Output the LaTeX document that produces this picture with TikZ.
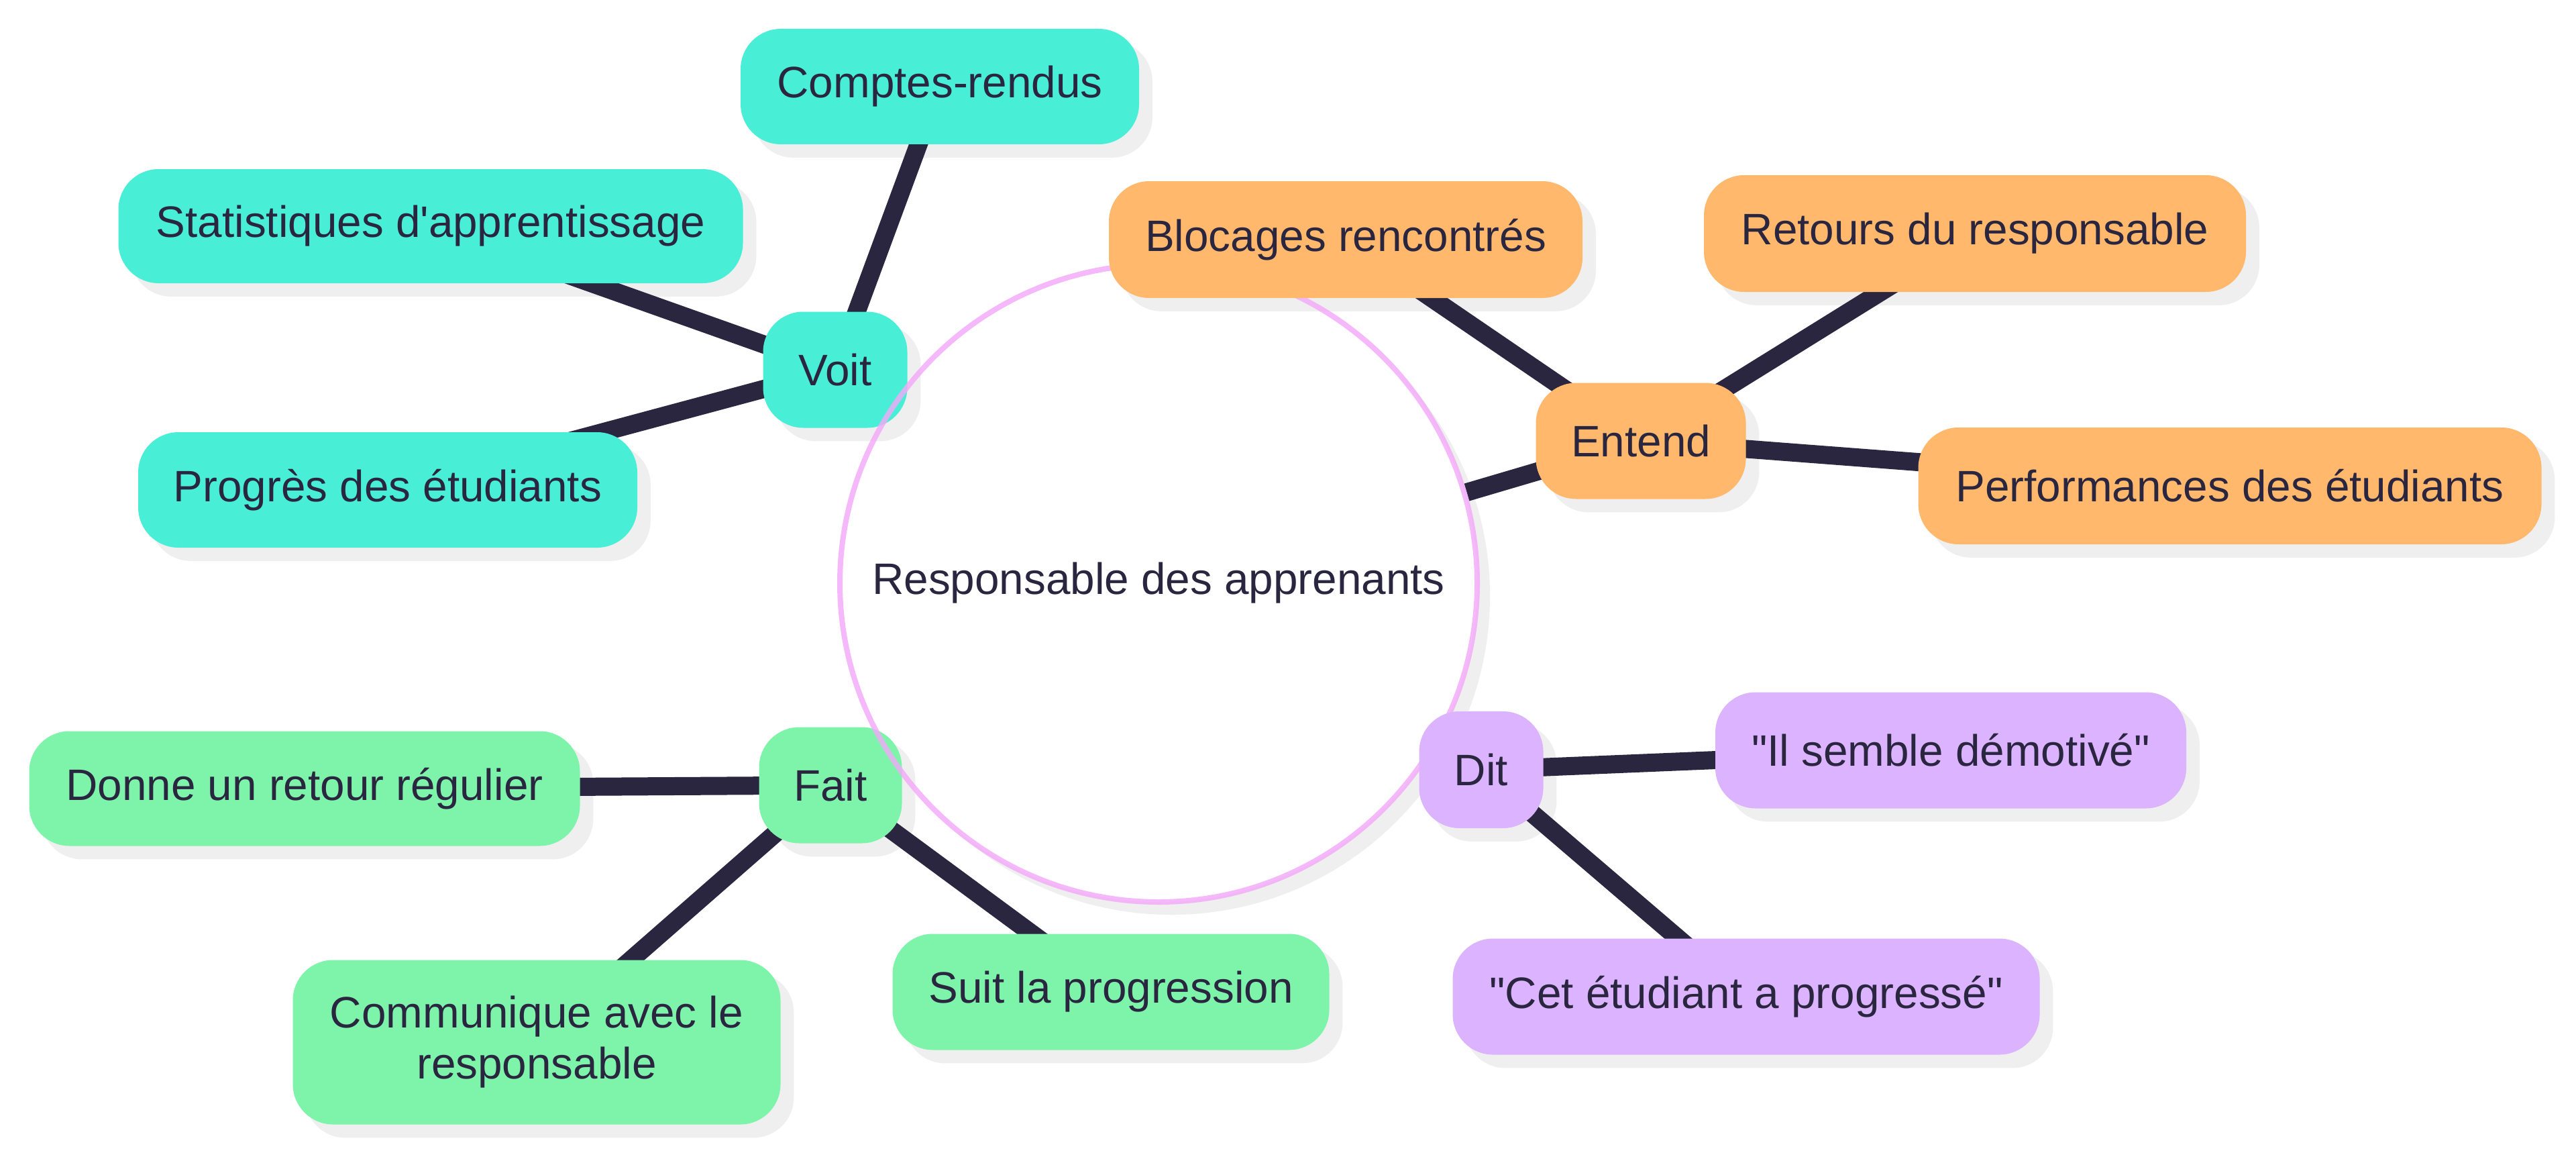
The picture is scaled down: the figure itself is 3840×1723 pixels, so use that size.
\documentclass[tikz,border=0pt]{standalone}
\usepackage{fontspec}
\setmainfont{Liberation Sans}[Ligatures=TeXOff]
\definecolor{cyanc}{HTML}{49EED6}
\definecolor{orangec}{HTML}{FFB86C}
\definecolor{greenc}{HTML}{7EF4AB}
\definecolor{purplec}{HTML}{DBB3FE}
\definecolor{pinkc}{HTML}{F3A8FA}
\definecolor{darkc}{HTML}{2A2640}
\definecolor{shadc}{HTML}{EFEFEF}
\pgfdeclarelayer{base}
\pgfdeclarelayer{bg}
\pgfdeclarelayer{shad}
\pgfdeclarelayer{lines}
\pgfsetlayers{base,bg,shad,lines,main}
\newcommand{\fsz}{\fontsize{16.4}{19}\selectfont}
\tikzset{
  box/.style={rectangle, rounded corners=15pt, inner sep=0pt, text=darkc, font=\fsz, align=center},
  cbox/.style={box, fill=cyanc},
  obox/.style={box, fill=orangec},
  gbox/.style={box, fill=greenc},
  pbox/.style={box, fill=purplec},
  conn/.style={draw=darkc, line width=6.75pt},
  shadowbox/.style={fill=shadc, rounded corners=15pt},
}
\newcommand{\shadowof}[1]{\fill[shadowbox] ([shift={(19,19)}]#1.south west) rectangle ([shift={(19,19)}]#1.north east);}
\begin{document}
\begin{tikzpicture}[x=0.25pt, y=-0.25pt]
\begin{pgfonlayer}{base}
\fill[white] (0,0) rectangle (3840,1723);
\end{pgfonlayer}
\useasboundingbox (0,0) rectangle (3840,1723);

% first-drawn nodes
\node[cbox, minimum width=53.75pt, minimum height=43.25pt] (voit) at (1245,551) {Voit};
\node[gbox, minimum width=53.25pt, minimum height=43.25pt] (fait) at (1238,1170) {Fait};

% hub
\node[circle, minimum size=237.5pt, inner sep=0pt, draw=pinkc, draw opacity=0.8, line width=2pt, text=darkc, font=\fsz] (hub) at (1727,869) {Responsable des apprenants};
\begin{pgfonlayer}{bg}
  \fill[shadc] ([shift={(19,19)}]hub.center) circle[radius=118.75pt];
  \fill[white] (hub.center) circle[radius=118.75pt];
\end{pgfonlayer}

% other nodes
\node[cbox, minimum width=148.5pt, minimum height=43pt] (comptes) at (1401,129) {Comptes-rendus};
\node[cbox, minimum width=232.75pt, minimum height=42.5pt] (stats) at (642,337) {Statistiques d'apprentissage};
\node[cbox, minimum width=186pt, minimum height=43pt] (progres) at (578,730) {Progrès des étudiants};

\node[obox, minimum width=176.5pt, minimum height=43.5pt] (blocages) at (2006,357) {Blocages rencontrés};
\node[obox, minimum width=78.25pt, minimum height=43.25pt] (entend) at (2446,657) {Entend};
\node[obox, minimum width=202pt, minimum height=43.5pt] (retours) at (2944,348) {Retours du responsable};
\node[obox, minimum width=232.25pt, minimum height=43.5pt] (perf) at (3324,724) {Performances des étudiants};

\node[pbox, minimum width=46.25pt, minimum height=43.5pt] (dit) at (2208,1147) {Dit};
\node[pbox, minimum width=175.5pt, minimum height=43.25pt] (semble) at (2908,1118) {"Il semble démotivé"};
\node[pbox, minimum width=218.75pt, minimum height=43.25pt] (cet) at (2603,1485) {"Cet étudiant a progressé"};

\node[gbox, minimum width=162.75pt, minimum height=43.25pt] (suit) at (1656,1478) {Suit la progression};
\node[gbox, minimum width=205.25pt, minimum height=42.75pt] (donne) at (454,1175) {Donne un retour régulier};
\node[gbox, minimum width=181.75pt, minimum height=61.25pt] (comm) at (800,1553) {Communique avec le\\responsable};

% shadows
\begin{pgfonlayer}{shad}
  \foreach \n in {voit,fait,comptes,stats,progres,blocages,entend,retours,perf,dit,semble,cet,suit,donne,comm}{\shadowof{\n}}
\end{pgfonlayer}

% connectors
\begin{pgfonlayer}{lines}
  \draw[conn] (voit.center) -- (comptes.center);
  \draw[conn] (voit.center) -- (stats.center);
  \draw[conn] (voit.center) -- (progres.center);
  \draw[conn] (entend.center) -- (blocages.center);
  \draw[conn] (entend.center) -- (retours.center);
  \draw[conn] (entend.center) -- (perf.center);
  \draw[conn] (entend.center) -- (hub);
  \draw[conn] (dit.center) -- (semble.center);
  \draw[conn] (dit.center) -- (cet.center);
  \draw[conn] (fait.center) -- (donne.center);
  \draw[conn] (fait.center) -- (comm.center);
  \draw[conn] (fait.center) -- (suit.center);
\end{pgfonlayer}
\end{tikzpicture}
\end{document}
